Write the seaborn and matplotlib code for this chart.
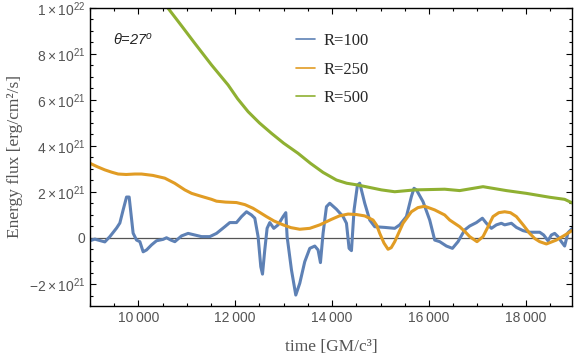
import numpy as np
import pandas as pd
import seaborn as sns
import matplotlib.pyplot as plt
from matplotlib.ticker import MultipleLocator, FuncFormatter

# R=100
t100 = [9000, 9103, 9309, 9413, 9551, 9619, 9687, 9757, 9811, 9893, 9963, 10032, 10100, 10170,
        10273, 10376, 10512, 10582, 10671, 10754, 10892, 11028, 11166, 11304, 11476, 11614, 11785,
        11888, 12026, 12130, 12233, 12336, 12404, 12472, 12528, 12563, 12610, 12658, 12713, 12796,
        12885, 12988, 13044, 13071, 13161, 13250, 13332, 13435, 13539, 13642, 13710, 13759, 13813,
        13883, 13951, 14089, 14226, 14296, 14350, 14399, 14453, 14523, 14570, 14673, 14776, 14880,
        15086, 15292, 15395, 15533, 15636, 15690, 15740, 15876, 16014, 16117, 16221, 16359, 16483,
        16598, 16736, 16839, 16978, 17101, 17184, 17287, 17390, 17493, 17561, 17700, 17803, 17939,
        18077, 18284, 18366, 18455, 18525, 18593, 18661, 18731, 18799, 18868, 18958]
f100 = [-0.12, -0.05, -0.17, 0.06, 0.43, 0.65, 1.22, 1.78, 1.78, 0.21, -0.09, -0.16, -0.6, -0.52,
        -0.3, -0.12, -0.06, 0.01, -0.09, -0.16, 0.09, 0.2, 0.13, 0.06, 0.06, 0.2, 0.49,
        0.67, 0.67, 0.93, 1.14, 1.0, 0.86, 0.06, -1.25, -1.57, -0.52, 0.42, 0.67, 0.42,
        0.57, 0.93, 1.1, 0.06, -1.39, -2.48, -1.97, -1.03, -0.45, -0.35, -0.52, -1.07, 0.2,
        1.36, 1.51, 1.25, 0.93, 0.64, -0.45, -0.55, 1.22, 2.3, 2.38, 1.51, 0.78, 0.49,
        0.46, 0.42, 0.57, 0.93, 1.8, 2.16, 2.09, 1.58, 0.78, -0.09, -0.16, -0.35, -0.45,
        -0.16, 0.35, 0.52, 0.67, 0.86, 0.64, 0.42, 0.57, 0.64, 0.57, 0.64, 0.46, 0.32,
        0.25, 0.25, 0.13, -0.12, 0.13, 0.2, 0.06, -0.16, -0.35, 0.23, 0.42]

# R=250
t250 = [9000, 9150, 9309, 9450, 9584, 9750, 9928, 10066, 10300, 10547, 10750, 10960, 11100, 11269,
        11511, 11614, 11800, 12026, 12200, 12369, 12500, 12645, 12800, 12988, 13150, 13332, 13539,
        13745, 13986, 14150, 14329, 14500, 14673, 14845, 14920, 14983, 15070, 15154, 15220, 15292,
        15380, 15463, 15636, 15770, 15911, 16117, 16323, 16427, 16633, 16750, 16839, 16990, 17114,
        17220, 17320, 17440, 17561, 17680, 17803, 17950, 18077, 18180, 18284, 18422, 18628, 18800,
        18971]
f250 = [3.25, 3.1, 2.96, 2.86, 2.78, 2.76, 2.78, 2.78, 2.72, 2.6, 2.38, 2.09, 1.94, 1.83,
        1.68, 1.6, 1.56, 1.54, 1.45, 1.29, 1.12, 0.93, 0.74, 0.57, 0.45, 0.38, 0.42,
        0.57, 0.81, 0.96, 1.04, 1.02, 0.96, 0.78, 0.55, 0.2, -0.22, -0.49, -0.42, -0.16,
        0.25, 0.64, 1.14, 1.32, 1.38, 1.22, 1.0, 0.78, 0.49, 0.26, 0.06, -0.16, 0.06,
        0.5, 0.93, 1.1, 1.14, 1.1, 0.93, 0.55, 0.2, -0.02, -0.16, -0.26, -0.09, 0.12,
        0.35]

# R=500
t500 = [9000, 9825, 10609, 10900, 11166, 11511, 11853, 12050, 12266, 12500, 12748, 13000, 13297,
        13550, 13813, 14089, 14300, 14535, 15018, 15292, 15705, 16323, 16633, 17114, 17596,
        18009, 18490, 18799, 18971]
f500 = [14.5, 12.2, 10.0, 9.2, 8.46, 7.52, 6.65, 6.05, 5.49, 5.0, 4.55, 4.12, 3.68,
        3.25, 2.85, 2.52, 2.38, 2.3, 2.09, 2.01, 2.09, 2.12, 2.06, 2.23, 2.06,
        1.94, 1.77, 1.68, 1.51]

labels = ['R=100', 'R=250', 'R=500']
colors = ['#5E81B5', '#E19C24', '#8FB032']

df = pd.concat([
    pd.DataFrame({'time': t100, 'flux': np.array(f100) * 1e21, 'R': labels[0]}),
    pd.DataFrame({'time': t250, 'flux': np.array(f250) * 1e21, 'R': labels[1]}),
    pd.DataFrame({'time': t500, 'flux': np.array(f500) * 1e21, 'R': labels[2]}),
])

sns.set_theme(style='ticks')
plt.rcParams['mathtext.fontset'] = 'custom'
plt.rcParams['mathtext.rm'] = 'Liberation Sans'
plt.rcParams['mathtext.it'] = 'Liberation Sans:italic'

fig = plt.figure(figsize=(5.76, 3.59), dpi=100)
ax = fig.add_axes([0.156, 0.148, 0.837, 0.83])

ax.axhline(0, color='#555555', lw=0.9, zorder=1)
sns.lineplot(data=df, x='time', y='flux', hue='R', hue_order=labels, palette=colors,
             estimator=None, sort=False, lw=2.2, ax=ax)

ax.set_xlim(9000, 18950)
ax.set_ylim(-2.95e21, 1e22)

ax.xaxis.set_major_locator(MultipleLocator(2000))
ax.xaxis.set_minor_locator(MultipleLocator(500))
ax.yaxis.set_major_locator(MultipleLocator(2e21))
ax.yaxis.set_minor_locator(MultipleLocator(0.5e21))


def yfmt(v, pos):
    if abs(v) < 1e10:
        return '0'
    m = v / 1e21
    if abs(m - 10) < 1e-6:
        return r'$1\times10^{22}$'
    return r'$%s%d\times10^{21}$' % ('\u2212' if m < 0 else '', abs(round(m)))


ax.xaxis.set_major_formatter(FuncFormatter(lambda v, p: '{:,.0f}'.format(v).replace(',', '\u2009')))
ax.yaxis.set_major_formatter(FuncFormatter(yfmt))

ax.tick_params(which='both', direction='in', top=True, right=True, colors='black',
               labelcolor='#555555', labelsize=10, width=0.8)
ax.tick_params(which='major', length=4)
ax.tick_params(which='minor', length=2.5)
for lab in ax.get_xticklabels() + ax.get_yticklabels():
    lab.set_family('Liberation Sans')
for s in ax.spines.values():
    s.set_linewidth(1.0)
    s.set_color('black')

serif = {'family': 'Liberation Serif', 'size': 12.5, 'color': '#555555'}
ax.set_xlabel('time [GM/c\u00b3]', fontdict=serif, labelpad=10)
ax.set_ylabel('Energy flux [erg/cm\u00b2/s]', fontdict=serif, labelpad=4)

ax.text(0.047, 0.895, r'$\theta$=27$^o$', transform=ax.transAxes, fontsize=10.5,
        family='Liberation Sans', style='italic', va='center')

handles, labs = ax.get_legend_handles_labels()
leg = ax.legend(handles, labs, loc='upper left', bbox_to_anchor=(0.396, 0.966), frameon=False,
                prop={'family': 'Liberation Serif', 'size': 12}, handlelength=1.15,
                handletextpad=0.5, labelspacing=0.75)
for h in leg.get_lines():
    h.set_linewidth(1.2)

fig.savefig('out.png', dpi=100)
